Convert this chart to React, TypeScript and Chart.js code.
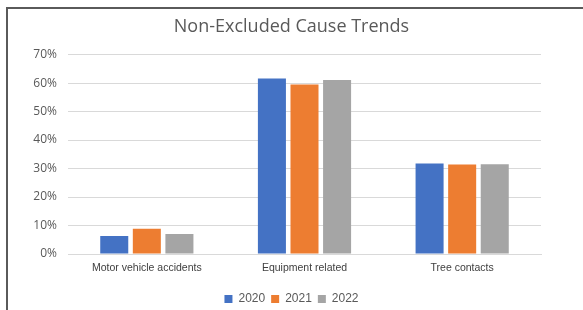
import React, { useEffect, useRef } from "react";
import { Chart, registerables } from "chart.js";

Chart.register(...registerables);

const categories = ["Motor vehicle accidents", "Equipment related", "Tree contacts"];
const series2020 = [0.063, 0.616, 0.318];
const series2021 = [0.089, 0.595, 0.314];
const series2022 = [0.070, 0.611, 0.315];
const yTicks = [0, 0.1, 0.2, 0.3, 0.4, 0.5, 0.6, 0.7];

export default function App() {
  const ref = useRef<HTMLCanvasElement | null>(null);

  useEffect(() => {
    if (!ref.current) return;
    const chart = new Chart(ref.current, {
      type: "bar",
      data: {
        labels: categories,
        datasets: [
          { label: "2020", data: series2020, backgroundColor: "#4472C4" },
          { label: "2021", data: series2021, backgroundColor: "#ED7D31" },
          { label: "2022", data: series2022, backgroundColor: "#A5A5A5" },
        ],
      },
      options: {
        animation: false,
        responsive: false,
        maintainAspectRatio: false,
        layout: { padding: { left: 0, right: 0, top: 0, bottom: -5 } },
        datasets: {
          bar: { categoryPercentage: 0.62, barPercentage: 0.86 },
        },
        plugins: {
          title: {
            display: true,
            text: "Non-Excluded Cause Trends",
            color: "#595959",
            font: { family: "'Open Sans'", size: 18, weight: "normal" },
            padding: { top: 16, bottom: 17 },
          },
          legend: {
            display: true,
            position: "bottom",
            labels: {
              boxWidth: 8,
              boxHeight: 8,
              padding: 6,
              color: "#595959",
              font: { family: "'Liberation Sans'", size: 12 },
            },
          },
          tooltip: { enabled: false },
        },
        scales: {
          x: {
            grid: { display: false, drawTicks: false },
            border: { display: true, color: "#D9D9D9", width: 1 },
            ticks: {
              color: "#404040",
              padding: 8,
              font: { family: "'Liberation Sans'", size: 10.5 },
            },
            afterFit: (scale: any) => {
              scale.height = 33;
            },
          },
          y: {
            min: 0,
            max: 0.7,
            grid: { color: "#D9D9D9", drawTicks: false },
            border: { display: false },
            afterBuildTicks: (scale: any) => {
              scale.ticks = yTicks.map((v) => ({ value: v }));
            },
            ticks: {
              color: "#595959",
              padding: 11,
              font: { family: "'Open Sans'", size: 12 },
              callback: (v: any) => Math.round(Number(v) * 100) + "%",
            },
            afterFit: (scale: any) => {
              scale.width = 68;
            },
          },
          yRight: {
            position: "right",
            display: true,
            min: 0,
            max: 1,
            grid: { display: false, drawTicks: false },
            border: { display: false },
            ticks: { display: false },
            afterFit: (scale: any) => {
              scale.width = 42;
            },
          },
        },
      },
    });
    return () => chart.destroy();
  }, []);

  return (
    <div style={{ position: "absolute", left: 0, top: 0, width: 583, height: 310, background: "#fff" }}>
      <div
        style={{
          position: "absolute",
          left: 6,
          top: 7,
          width: 583,
          height: 310,
          borderLeft: "2px solid #5a5a5a",
          borderTop: "2px solid #5a5a5a",
        }}
      />
      <canvas ref={ref} width={583} height={310} style={{ position: "absolute", left: 0, top: 0 }} />
    </div>
  );
}
